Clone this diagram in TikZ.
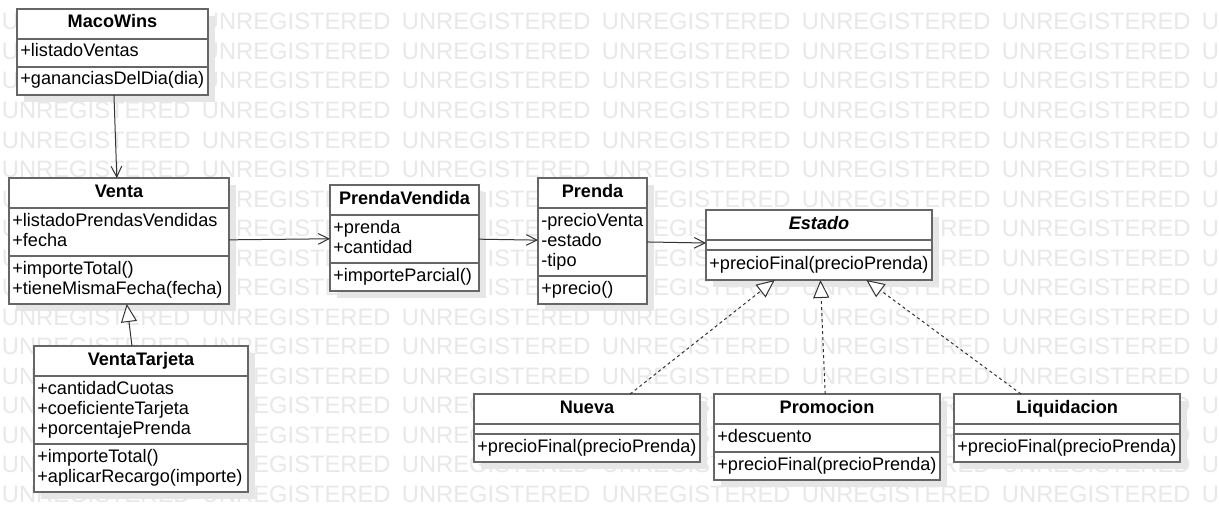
\documentclass[tikz,border=0pt]{standalone}
\usepackage{fontspec}
\setmainfont{Liberation Sans}
\usetikzlibrary{positioning, fit, shadows, arrows.meta}

\definecolor{boxgray}{RGB}{102,102,102}
\definecolor{linegray}{RGB}{51,51,51}
\definecolor{shadowgray}{RGB}{230,230,230}
\definecolor{markgray}{RGB}{232,232,232}

\newcommand{\umlfont}{\fontsize{13.6pt}{15pt}\selectfont}
\newcommand{\markfont}{\fontsize{17.8pt}{20pt}\selectfont}

\tikzset{
  umlhead/.style={draw=boxgray, fill=white, line width=1.5pt, outer sep=0pt,
    inner sep=0pt, minimum height=22.5pt, font=\umlfont\bfseries,
    execute at begin node={\noindent\strut}, execute at end node=\strut,
    drop shadow={shadow xshift=5.25pt, shadow yshift=-5.25pt, fill=shadowgray, opacity=1}},
  umlpart/.style={umlhead, font=\umlfont, inner xsep=2.5pt, align=left},
  umlempty/.style={umlhead, minimum height=7.5pt, text height=0pt, text depth=0pt,
    execute at begin node={}, execute at end node={}},
  navarrow/.style={draw=linegray, line width=0.75pt, -{Straight Barb[length=8pt,width=8pt]}},
  genarrow/.style={draw=linegray, line width=0.75pt, -{Triangle[length=13.5pt,width=12pt,fill=white]}},
  realarrow/.style={genarrow, dash pattern=on 2.25pt off 2.25pt},
  wmtext/.style={text=markgray, font=\markfont, inner sep=0pt, anchor=base west},
  classfit/.style={inner sep=0pt, outer sep=0pt},
}

\begin{document}
\begin{tikzpicture}[x=0.75pt, y=-0.75pt]
  \useasboundingbox (0,0) rectangle (1219,531);
  \fill[white] (0,0) rectangle (1219,531);
  % watermark
  \begin{scope}
    \clip (0,0) rectangle (1219,531);
    \foreach \r in {0,...,16}{
      \foreach \c in {0,...,5}{
        \node[wmtext] (wm-\r-\c) at ({1.7+200*\c},{30+29.5*\r}) {UNREGISTERED};
      }
      \node[wmtext] (wm-\r-6) at (1201.7,{30+29.5*\r}) {U};
    }
  \end{scope}

  % MacoWins
  \node[umlhead, minimum width=143.25pt, anchor=north west] (maco-h) at (17,9) {MacoWins};
  \node[umlpart, text width=138.25pt, minimum height=21pt, below=0pt of maco-h] (maco-a) {+listadoVentas};
  \node[umlpart, text width=138.25pt, minimum height=21pt, below=0pt of maco-a] (maco-o) {+gananciasDelDia(dia)};
  \node[classfit, fit=(maco-h)(maco-o)] (maco) {};

  % Venta
  \node[umlhead, minimum width=165pt, anchor=north west] (venta-h) at (9,178) {Venta};
  \node[umlpart, text width=160pt, minimum height=36pt, below=0pt of venta-h] (venta-a) {+listadoPrendasVendidas\\+fecha};
  \node[umlpart, text width=160pt, minimum height=36pt, below=0pt of venta-a] (venta-o) {+importeTotal()\\+tieneMismaFecha(fecha)};
  \node[classfit, fit=(venta-h)(venta-o)] (venta) {};

  % VentaTarjeta
  \node[umlhead, minimum width=160.5pt, anchor=north west] (tarjeta-h) at (34,346) {VentaTarjeta};
  \node[umlpart, text width=155.5pt, minimum height=51pt, below=0pt of tarjeta-h] (tarjeta-a) {+cantidadCuotas\\+coeficienteTarjeta\\+porcentajePrenda};
  \node[umlpart, text width=155.5pt, minimum height=36pt, below=0pt of tarjeta-a] (tarjeta-o) {+importeTotal()\\+aplicarRecargo(importe)};
  \node[classfit, fit=(tarjeta-h)(tarjeta-o)] (tarjeta) {};

  % PrendaVendida
  \node[umlhead, minimum width=111.75pt, anchor=north west] (vendida-h) at (330,185) {PrendaVendida};
  \node[umlpart, text width=106.75pt, minimum height=36pt, below=0pt of vendida-h] (vendida-a) {+prenda\\+cantidad};
  \node[umlpart, text width=106.75pt, minimum height=21pt, below=0pt of vendida-a] (vendida-o) {+importeParcial()};
  \node[classfit, fit=(vendida-h)(vendida-o)] (vendida) {};

  % Prenda
  \node[umlhead, minimum width=81.75pt, anchor=north west] (prenda-h) at (538,178) {Prenda};
  \node[umlpart, text width=76.75pt, minimum height=51pt, below=0pt of prenda-h] (prenda-a) {-precioVenta\\-estado\\-tipo};
  \node[umlpart, text width=76.75pt, minimum height=21pt, below=0pt of prenda-a] (prenda-o) {+precio()};
  \node[classfit, fit=(prenda-h)(prenda-o)] (prenda) {};

  % Estado
  \node[umlhead, minimum width=169.5pt, anchor=north west] (estado-h) at (706,210) {\itshape Estado};
  \node[umlempty, minimum width=169.5pt, below=0pt of estado-h] (estado-a) {};
  \node[umlpart, text width=164.5pt, minimum height=22.5pt, below=0pt of estado-a] (estado-o) {+precioFinal(precioPrenda)};
  \node[classfit, fit=(estado-h)(estado-o)] (estado) {};

  % Nueva
  \node[umlhead, minimum width=169.5pt, anchor=north west] (nueva-h) at (474,394) {Nueva};
  \node[umlempty, minimum width=169.5pt, below=0pt of nueva-h] (nueva-a) {};
  \node[umlpart, text width=164.5pt, minimum height=21pt, below=0pt of nueva-a] (nueva-o) {+precioFinal(precioPrenda)};
  \node[classfit, fit=(nueva-h)(nueva-o)] (nueva) {};

  % Promocion
  \node[umlhead, minimum width=169.5pt, anchor=north west] (promo-h) at (714,394) {Promocion};
  \node[umlpart, text width=164.5pt, minimum height=21pt, below=0pt of promo-h] (promo-a) {+descuento};
  \node[umlpart, text width=164.5pt, minimum height=21pt, below=0pt of promo-a] (promo-o) {+precioFinal(precioPrenda)};
  \node[classfit, fit=(promo-h)(promo-o)] (promo) {};

  % Liquidacion
  \node[umlhead, minimum width=169.5pt, anchor=north west] (liqui-h) at (954,394) {Liquidacion};
  \node[umlempty, minimum width=169.5pt, below=0pt of liqui-h] (liqui-a) {};
  \node[umlpart, text width=164.5pt, minimum height=21pt, below=0pt of liqui-a] (liqui-o) {+precioFinal(precioPrenda)};
  \node[classfit, fit=(liqui-h)(liqui-o)] (liqui) {};

  % relations
  \draw[navarrow] (maco) -- (venta);
  \draw[navarrow] (venta) -- (vendida);
  \draw[navarrow] (vendida) -- (prenda);
  \draw[navarrow] (prenda) -- (estado);
  \draw[genarrow] (tarjeta) -- (venta);
  \draw[realarrow] (nueva) -- (estado);
  \draw[realarrow] (promo) -- (estado);
  \draw[realarrow] (liqui) -- (estado);
\end{tikzpicture}
\end{document}
